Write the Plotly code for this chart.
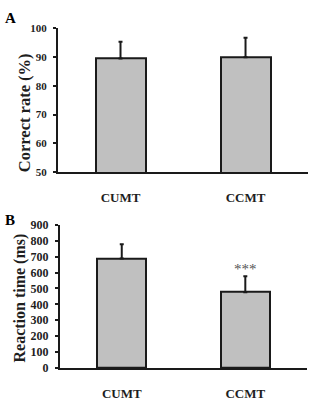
import plotly.graph_objects as go

categories = ["CUMT", "CCMT"]
correct_rate = [89.5, 89.9]
correct_rate_sd = [5.8, 6.8]
reaction_time = [688, 476]
reaction_time_sd = [90, 100]
significance = ["", "***"]

FONT = "Liberation Serif, Times New Roman, serif"
BAR_FILL = "#c0c0c0"
LINE = "#1a1a1a"
TXT = "#1e1e1e"
W, H = 314, 403

fig = go.Figure()

fig.add_trace(go.Bar(
    x=categories, y=correct_rate, width=0.4,
    marker=dict(color=BAR_FILL, line=dict(color=LINE, width=2)),
    error_y=dict(type="data", array=correct_rate_sd, arrayminus=[0, 0], symmetric=False,
                 color=LINE, thickness=2, width=2),
    xaxis="x", yaxis="y", showlegend=False,
))
fig.add_trace(go.Bar(
    x=categories, y=reaction_time, width=0.4,
    marker=dict(color=BAR_FILL, line=dict(color=LINE, width=2)),
    error_y=dict(type="data", array=reaction_time_sd, arrayminus=[0, 0], symmetric=False,
                 color=LINE, thickness=2, width=2),
    xaxis="x2", yaxis="y2", showlegend=False,
))

for c, v, e, s in zip(categories, reaction_time, reaction_time_sd, significance):
    if s:
        fig.add_annotation(x=c, y=v + e, xref="x2", yref="y2", text=s, showarrow=False,
                           yshift=7, font=dict(family=FONT, size=15, color="#555555"))

fig.add_annotation(x=0.008, y=0.997, xref="paper", yref="paper", text="A",
                   showarrow=False, xanchor="left", yanchor="top",
                   font=dict(family=FONT, size=15, color="black", weight="bold"))
fig.add_annotation(x=0.008, y=0.478, xref="paper", yref="paper", text="B",
                   showarrow=False, xanchor="left", yanchor="top",
                   font=dict(family=FONT, size=15, color="black", weight="bold"))

# axis titles as rotated annotations
fig.add_annotation(x=24 / W, y=1 - 110 / H, xref="paper", yref="paper", text="Correct rate (%)",
                   textangle=-90, showarrow=False, xanchor="center", yanchor="middle",
                   font=dict(family=FONT, size=16.5, color=TXT, weight="bold"))
fig.add_annotation(x=20 / W, y=1 - 302 / H, xref="paper", yref="paper", text="Reaction time (ms)",
                   textangle=-90, showarrow=False, xanchor="center", yanchor="middle",
                   font=dict(family=FONT, size=16, color=TXT, weight="bold"))

xcommon = dict(showline=True, linecolor=LINE, linewidth=2, ticks="", showgrid=False,
               tickfont=dict(family=FONT, size=13, color=TXT, weight="bold"), ticklabelstandoff=12,
               range=[-0.5, 1.5])
ycommon = dict(showline=True, linecolor=LINE, linewidth=2, ticks="outside", ticklen=3,
               tickwidth=2, tickcolor=LINE, showgrid=False, zeroline=False,
               ticklabelstandoff=4)

fig.update_layout(
    width=W, height=H, margin=dict(l=0, r=0, t=0, b=0),
    plot_bgcolor="white", paper_bgcolor="white",
    bargap=0,
    xaxis=dict(domain=[0.1847, 0.981], anchor="y", **xcommon),
    yaxis=dict(domain=[0.5757, 0.9454], anchor="x", range=[50, 100], dtick=10,
               tickfont=dict(family=FONT, size=11, color=TXT, weight="bold"), **ycommon),
    xaxis2=dict(domain=[0.191, 0.978], anchor="y2", **xcommon),
    yaxis2=dict(domain=[0.072, 0.440], anchor="x2", range=[0, 900], dtick=100,
                tickfont=dict(family=FONT, size=12, color=TXT, weight="bold"), **ycommon),
)

fig.write_html("out.html")
